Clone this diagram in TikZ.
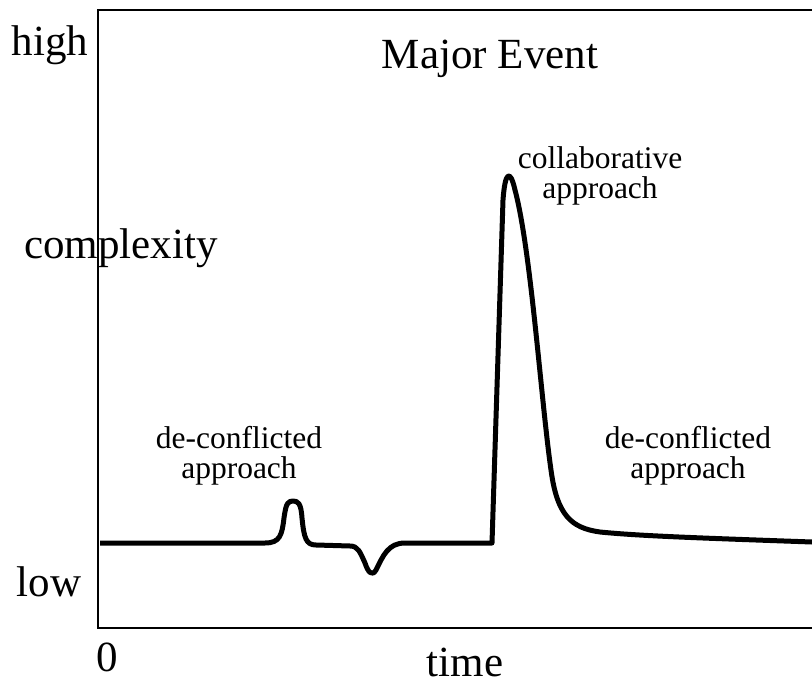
\documentclass[tikz,border=0pt]{standalone}
\usepackage{fontspec}
\setmainfont{Liberation Serif}
\begin{document}
\begin{tikzpicture}[x=1pt,y=-1pt,
  axisline/.style={line width=2pt,black},
  trace/.style={line width=5pt,black,line join=round,line cap=butt},
  biglabel/.style={font=\fontsize{43}{46}\selectfont,inner sep=0pt,anchor=base},
  smalllabel/.style={font=\fontsize{31.5}{29.5}\selectfont,inner sep=0pt,anchor=base,align=center}]
\useasboundingbox (0,0) rectangle (812,685);

% frame (open on the right)
\draw[axisline] (816,10) -- (98,10) -- (98,628) -- (816,628);

% axis labels
\node[biglabel] (high) at (50,56) {high};
\node[biglabel] (cx) at (121,258) {complexity};
\node[biglabel] (low) at (49,596) {low};
\node[biglabel] (zero) at (107,671) {0};
\node[biglabel] (time) at (465,676) {time};
\node[biglabel] (title) at (490,69) {Major Event};

% phase labels (anchored on the baseline of the last line)
\node[smalllabel] (dc1) at (239,478) {de-conflicted\\approach};
\node[smalllabel] (col) at (600,198) {collaborative\\approach};
\node[smalllabel] (dc2) at (688,478) {de-conflicted\\approach};

% complexity over time
\draw[trace]
  (100,543) -- (265,543)
  .. controls (280,543) and (282,535) .. (284,518)
  .. controls (286,503) and (288,501) .. (293,501)
  .. controls (298,501) and (301,503) .. (302,518)
  .. controls (304,538) and (306,545) .. (316,545)
  -- (350,546)
  .. controls (358,546) and (360,552) .. (365,563)
  .. controls (368,572) and (372,577) .. (376,570)
  .. controls (383,556) and (388,543) .. (405,543)
  -- (492,543)
  -- (503,200)
  .. controls (505,172) and (510,168) .. (515,190)
  .. controls (531,250) and (541,400) .. (551,470)
  .. controls (557,515) and (571,528) .. (600,532)
  .. controls (640,536) and (700,538) .. (812,542);
\end{tikzpicture}
\end{document}
